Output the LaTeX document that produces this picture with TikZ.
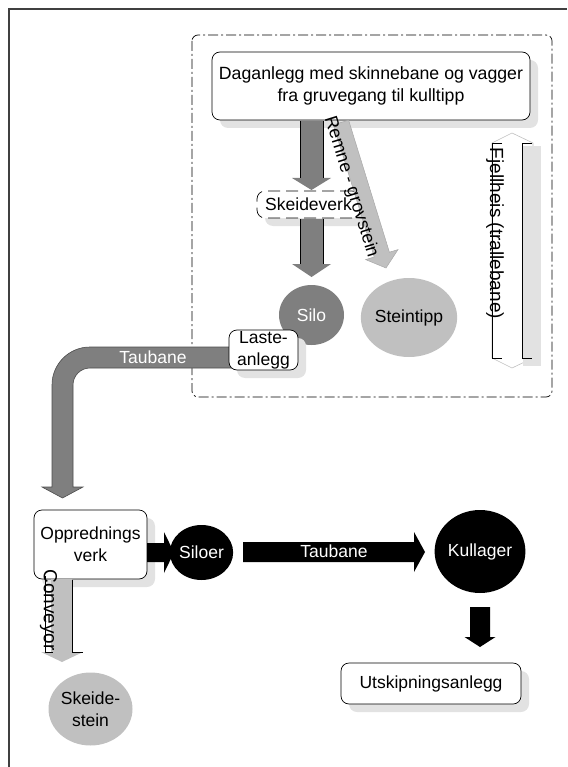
\documentclass[tikz,border=0pt]{standalone}
\usepackage{fontspec}
\setmainfont{Liberation Sans}
\usetikzlibrary{shapes.geometric,shadows}
\definecolor{darkg}{HTML}{7F7F7F}
\definecolor{lightg}{HTML}{C0C0C0}
\definecolor{shadowg}{HTML}{E2E2E2}
\definecolor{framec}{HTML}{404040}
\definecolor{headline}{HTML}{A8A8A8}
\begin{document}
\begin{tikzpicture}[x=1pt,y=-1pt,
  txt/.style={font=\fontsize{17.5}{22}\selectfont, align=center, inner sep=0pt},
  boxnode/.style={txt, draw=black, line width=0.7pt, fill=white, rounded corners=8pt,
     drop shadow={shadow xshift=8pt, shadow yshift=-8pt, fill=shadowg, opacity=1}},
  dashbox/.style={boxnode, dash pattern=on 12pt off 6pt},
  blob/.style={txt, ellipse, inner sep=0pt},
  shaftline/.style={black, line width=0.8pt},
  lbl/.style={txt},
  rotlbl/.style={inner sep=0pt, font=\fontsize{18.5}{22}\selectfont}
]
\useasboundingbox (0,0) rectangle (567,767);

% outer frame (top and left)
\draw[framec, line width=2pt] (9,767) -- (9,9) -- (567,9);

% dash-dot group
\draw[black, line width=0.7pt, dash pattern=on 10pt off 3pt on 2pt off 3pt, rounded corners=6pt]
  (192,35) rectangle (552,397);

% boxes in the upper group
\node[boxnode, minimum width=318pt, minimum height=68pt, font=\fontsize{17.7}{22}\selectfont] (daganlegg) at (371,86)
  {Daganlegg med skinnebane og vagger\\fra gruvegang til kulltipp};
\node[dashbox, minimum width=103pt, minimum height=27pt] (skeideverk) at (308.5,204.5) {Skeideverk};

% dark arrows daganlegg -> skeideverk -> silo
\fill[darkg] (300,121) -- (323,121) -- (323,178) -- (331,178) -- (311.5,190) -- (292,178) -- (300,178) -- cycle;
\draw[shaftline] (300,121) -- (300,178) (323,121) -- (323,178);
\fill[darkg] (300,219) -- (323,219) -- (323,264) -- (331,264) -- (311.5,277) -- (292,264) -- (300,264) -- cycle;
\draw[shaftline] (300,219) -- (300,264) (323,219) -- (323,264);

% light arrow (Remne - grovstein)
\filldraw[fill=lightg, draw=headline, line width=0.5pt]
  (333.4,124.9) -- (348.6,120.1) -- (389.4,252.2) -- (398.0,249.6) -- (386,268) -- (365.6,259.6) -- (374.2,257.0) -- cycle;
\node[rotlbl, rotate=-72.7, font=\fontsize{18}{22}\selectfont] (remne) at (351,187) {Remne - grovstein};

% Fjellheis double arrow
\filldraw[fill=white, draw=lightg, line width=0.6pt]
  (492,143) -- (512,133) -- (533,143) -- (533,358) -- (512,368) -- (492,358) -- cycle;
\fill[shadowg] (523,146) rectangle (541,366);
\draw[shaftline] (502,143) -- (492,143) -- (492,358) -- (502,358);
\draw[shaftline] (532,143) -- (522,143) -- (522,358) -- (532,358);
\node[rotlbl, rotate=-90, font=\fontsize{19}{22}\selectfont] (fjell) at (495,233.5) {Fjellheis (trallebane)};

% silo and steintipp
\node[blob, fill=darkg, text=white, minimum width=65pt, minimum height=60pt] (silo) at (311.5,315) {Silo};
\node[blob, fill=lightg, minimum width=84pt, minimum height=79pt] (steintipp) at (409,317.5) {Steintipp};

% curved Taubane band
\filldraw[fill=darkg, draw=black!70, line width=0.6pt]
  (232,347) -- (90,347) .. controls (69,347) and (52,364) .. (52,385) -- (52,487)
  -- (42,487) -- (62.5,498) -- (83,487) -- (73,487) -- (73,385)
  .. controls (73,375.6) and (80.6,368) .. (90,368) -- (232,368) -- cycle;
\node[lbl, text=white] (taubane1) at (153,357) {Taubane};

\node[boxnode, minimum width=69pt, minimum height=40pt] (laste) at (263.5,350) {Laste-\\anlegg};

% lower part
\node[boxnode, minimum width=113pt, minimum height=69pt] (oppr) at (90.5,544.5) {Opprednings\\verk};

% conveyor
\fill[lightg] (51,579) -- (72,579) -- (72,652) -- (83,652) -- (62,662) -- (41,652) -- (51,652) -- cycle;
\draw[shaftline] (45,576) -- (45,652) -- (53,652);
\draw[shaftline] (72,580) -- (72,652) -- (83,652);
\node[rotlbl, rotate=-90, font=\fontsize{19}{22}\selectfont] (conv) at (48.5,610) {Conveyor};
\node[blob, fill=lightg, minimum width=84pt, minimum height=73pt] (skeidestein) at (90.5,709) {Skeide-\\stein};

% black arrows
\fill[black] (147,543) -- (164,543) -- (164,532) -- (174,552.5) -- (164,573) -- (164,562) -- (147,562) -- cycle;
\node[blob, fill=black, text=white, minimum width=55pt, minimum height=55pt] (siloer) at (201.5,552.5) {Siloer};
\fill[black] (243,542) -- (414,542) -- (414,532) -- (425,552) -- (414,572) -- (414,562) -- (243,562) -- cycle;
\node[lbl, text=white] (taubane2) at (334,551) {Taubane};
\node[blob, fill=black, text=white, minimum width=82pt, minimum height=83pt] (kullager) at (480,551.5) {Kullager};
\fill[black] (470,607) -- (490,607) -- (490,637) -- (495.5,637) -- (480,647) -- (464.5,637) -- (470,637) -- cycle;
\node[boxnode, minimum width=180pt, minimum height=41pt] (utskip) at (431,683.5) {Utskipningsanlegg};
\end{tikzpicture}
\end{document}
